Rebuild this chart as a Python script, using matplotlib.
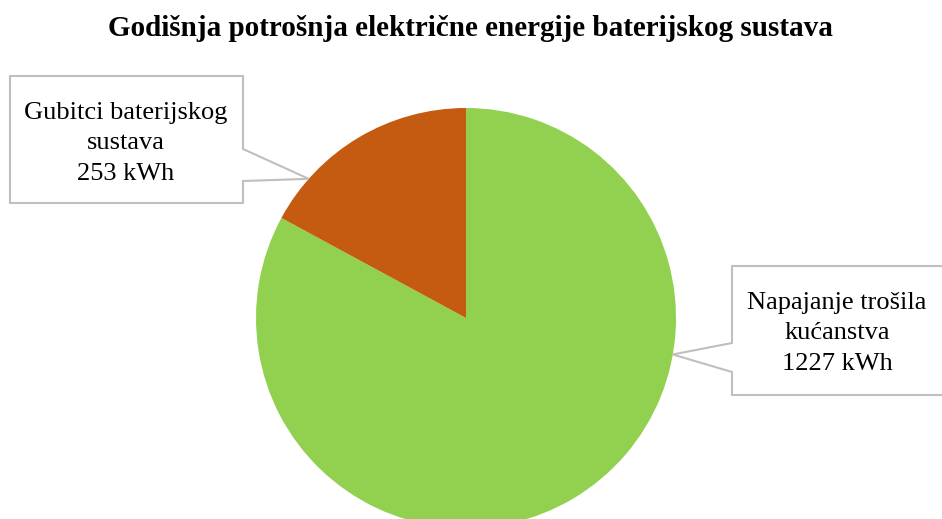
import numpy as np
import matplotlib.pyplot as plt
from matplotlib.patches import Polygon

plt.rcParams['font.family'] = ['Liberation Serif', 'DejaVu Serif']

# data
labels = ['Napajanje trošila\nkućanstva', 'Gubitci baterijskog\nsustava']
values = [1227, 253]
colors = ['#92D050', '#C55A11']
title = 'Godišnja potrošnja električne energije baterijskog sustava'

W, H = 942, 519
fig = plt.figure(figsize=(W / 100, H / 100), dpi=100)
ax = fig.add_axes([0, 0, 1, 1])

# pie in pixel coordinates (y up)
cx, cy, r = 466, H - 318, 210
ax.pie(values, colors=colors, startangle=90, counterclock=False,
       center=(cx, cy), radius=r, frame=True,
       wedgeprops=dict(linewidth=0))
ax.set_xlim(0, W)
ax.set_ylim(0, H)
ax.set_aspect('equal')
ax.axis('off')


def tip(angle_deg):
    a = np.radians(angle_deg)
    return (cx + r * np.cos(a), cy + r * np.sin(a))


def yy(v):
    return H - v


edge = '#BFBFBF'

# left callout (battery losses)
tx, ty = tip(138.5)
left = [(10, yy(76)), (243, yy(76)), (243, yy(149)), (tx, ty),
        (243, yy(181)), (243, yy(203)), (10, yy(203))]
ax.add_patch(Polygon(left, closed=True, facecolor='white', edgecolor=edge,
                     linewidth=1.5, zorder=3))
ax.text(126, yy(143), f'{labels[1]}\n{values[1]} kWh', ha='center', va='center',
        fontsize=19, linespacing=1.5, zorder=4)

# right callout (household consumption)
tx, ty = tip(-10)
right = [(732, yy(266)), (955, yy(266)), (955, yy(395)), (732, yy(395)),
         (732, yy(372)), (tx, ty), (732, yy(343))]
ax.add_patch(Polygon(right, closed=True, facecolor='white', edgecolor=edge,
                     linewidth=1.5, zorder=3))
ax.text(837, yy(333), f'{labels[0]}\n{values[0]} kWh', ha='center', va='center',
        fontsize=19, linespacing=1.5, zorder=4)

ax.text(W / 2 - 1, yy(29), title, ha='center', va='center',
        fontsize=21, fontweight='bold')

fig.savefig('out.png', dpi=100)
